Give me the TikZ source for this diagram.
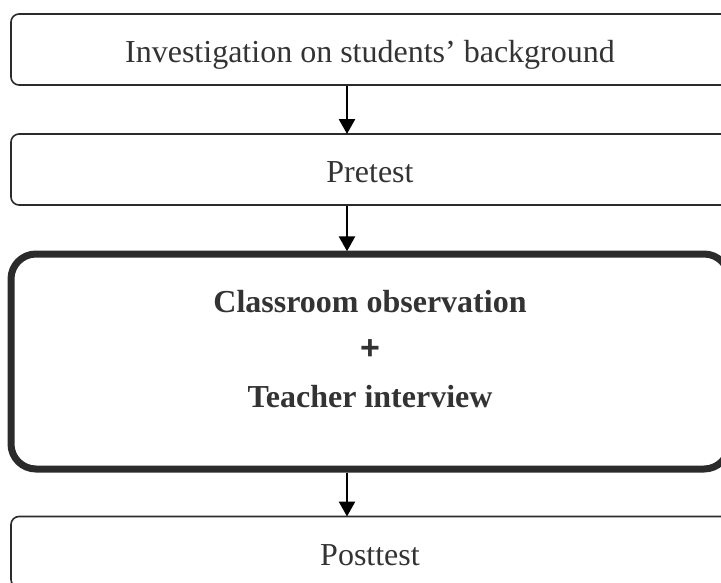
\documentclass[tikz,border=0pt]{standalone}
\usepackage{fontspec}
\setmainfont{Liberation Serif}
\newfontfamily\plusfont{Liberation Sans}
\usetikzlibrary{arrows.meta}
\definecolor{ink}{HTML}{2B2B2B}
\definecolor{txt}{HTML}{333333}
\tikzset{
  stage/.style={draw=ink, line width=1.6pt, rounded corners=8pt,
    minimum width=718pt, minimum height=71pt, inner sep=0pt,
    text height=26pt, text depth=0pt,
    text=txt, font=\fontsize{32}{38}\selectfont},
  keystage/.style={draw=ink, line width=7pt, rounded corners=25pt,
    minimum width=718pt, minimum height=215pt, inner sep=0pt},
  label/.style={text=txt, inner sep=0pt, anchor=base,
    font=\fontsize{32}{38}\selectfont\bfseries},
  flow/.style={draw=black, line width=2.6pt,
    -{Triangle[width=16pt,length=15pt]}, shorten >=-0.8pt}
}
\begin{document}
\begin{tikzpicture}[x=1pt,y=-1pt]
  \useasboundingbox (0,0) rectangle (721,582);
  \begin{scope}
    \clip (0,0) rectangle (721,582);
    \node[stage] (bg) at (370,49.5) {Investigation on students’ background};
    \node[stage] (pre) at (370,169.5) {Pretest};
    \node[keystage] (obs) at (370,361.5) {};
    \node[stage] (post) at (370,552) {Posttest};
  \end{scope}
  \node[label] (cls) at (370,312) {Classroom observation};
  \node[label, font=\fontsize{34}{38}\selectfont\plusfont\bfseries] (plus) at (370,359) {+};
  \node[label] (tch) at (370,407) {Teacher interview};
  \coordinate (ax) at (347,0);
  \draw[flow] (bg.south -| ax) -- (pre.north -| ax);
  \draw[flow] (pre.south -| ax) -- (obs.north -| ax);
  \draw[flow] (obs.south -| ax) -- (post.north -| ax);
\end{tikzpicture}
\end{document}
